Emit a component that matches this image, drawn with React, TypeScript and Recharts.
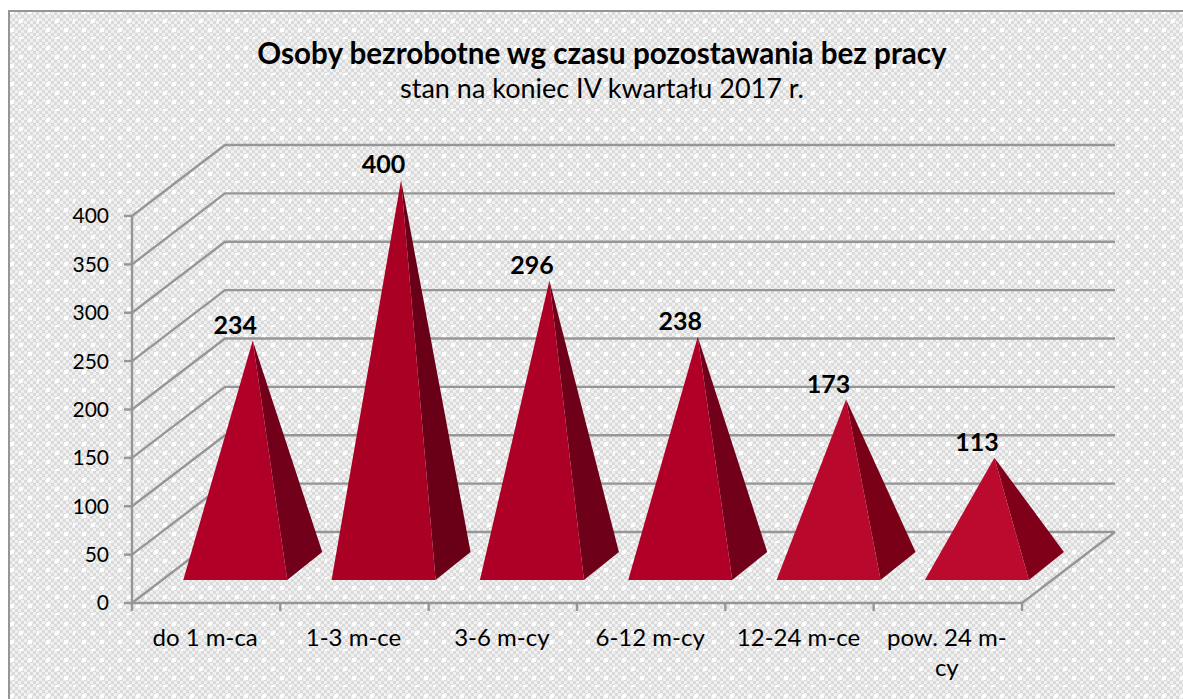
import React from "react";
import { BarChart, Bar, XAxis, YAxis, CartesianGrid, LabelList } from "recharts";

const categories = ["do 1 m-ca", "1-3 m-ce", "3-6 m-cy", "6-12 m-cy", "12-24 m-ce", "pow. 24 m-cy"];
const values = [234, 400, 296, 238, 173, 113];
const yTicks = [0, 50, 100, 150, 200, 250, 300, 350, 400];

const frontColors = ["#B00028", "#AA0024", "#AE0026", "#B00028", "#B8082C", "#BC0A2E"];
const sideColors = ["#72001A", "#6A0018", "#6E0019", "#72001A", "#7A0018", "#80001A"];

const chartData = categories.map((name, i) => ({ name, value: values[i] }));

const WIDTH = 1183;
const HEIGHT = 699;
const FONT = "Lato, Carlito, Calibri, sans-serif";
const GRID = "#969696";

// plot area = front plane of the fake 3D box
const LEFT = 132;
const RIGHT = 1022;
const TOP = 216;
const BOTTOM = 603;
const DEPTH_X = 93;
const DEPTH_Y = 71;
const BAND = (RIGHT - LEFT) / categories.length;

// wall lines: diagonal on the side wall, then straight across the back
const gridLine = (props: any) => {
  const { x1, y1, x2, y2, index } = props;
  const isFloor = Math.abs(y1 - BOTTOM) < 1;
  return (
    <g key={`wall-${index}`}>
      <polyline
        points={`${x1},${y1} ${x1 + DEPTH_X},${y1 - DEPTH_Y} ${x2 + DEPTH_X},${y2 - DEPTH_Y}`}
        fill="none"
        stroke={GRID}
        strokeWidth={2.4}
      />
      {isFloor && <line x1={x2} y1={y2} x2={x2 + DEPTH_X} y2={y2 - DEPTH_Y} stroke={GRID} strokeWidth={2.4} />}
    </g>
  );
};

const Pyramid = (props: any) => {
  const { x, y, width, height, index } = props;
  const baseY = y + height - 23;
  const left = x + 29;
  const right = left + width;
  const apexX = x + width / 2 + 46.5;
  const apexY = y - 36;
  return (
    <g>
      <polygon points={`${right},${baseY} ${right + 35},${baseY - 28} ${apexX},${apexY}`} fill={sideColors[index]} />
      <polygon points={`${left},${baseY} ${right},${baseY} ${apexX},${apexY}`} fill={frontColors[index]} />
    </g>
  );
};

const CategoryTick = (props: any) => {
  const { x, payload, index } = props;
  const label: string = payload.value;
  const lines = label.length > 10 ? [label.slice(0, label.lastIndexOf("-") + 1), label.slice(label.lastIndexOf("-") + 1)] : [label];
  const axisY = BOTTOM;
  return (
    <g>
      <line x1={x - BAND / 2} y1={axisY} x2={x - BAND / 2} y2={axisY + 8} stroke={GRID} strokeWidth={2.4} />
      {index === categories.length - 1 && (
        <line x1={x + BAND / 2} y1={axisY} x2={x + BAND / 2} y2={axisY + 8} stroke={GRID} strokeWidth={2.4} />
      )}
      {lines.map((line, i) => (
        <text key={i} x={x - 1} y={axisY + 43 + i * 30} textAnchor="middle" fontSize={24} fontFamily={FONT} fill="#000">
          {line}
        </text>
      ))}
    </g>
  );
};

const BarLabel = (props: any) => {
  const { x, y, width, value } = props;
  return (
    <text x={x + width / 2 + 29} y={y - 43} textAnchor="middle" fontSize={25} fontWeight={700} fontFamily={FONT} fill="#000">
      {value}
    </text>
  );
};

export default function App() {
  return (
    <div style={{ position: "absolute", left: 0, top: 0, width: WIDTH, height: HEIGHT, overflow: "hidden", background: "#fff" }}>
      <svg width={WIDTH} height={HEIGHT} style={{ position: "absolute", left: 0, top: 0 }}>
        <defs>
          <pattern id="checker" width="6" height="6" patternUnits="userSpaceOnUse">
            <rect width="6" height="6" fill="#f1f1f1" />
            <rect width="3" height="3" fill="#dadada" />
            <rect x="3" y="3" width="3" height="3" fill="#dadada" />
          </pattern>
          <pattern id="dots" width="36" height="36" patternUnits="userSpaceOnUse" x="3" y="3">
            <rect x="7" y="7" width="4" height="4" fill="#fff" />
            <rect x="25" y="25" width="4" height="4" fill="#fff" />
            <rect x="16" y="16" width="4" height="4" fill="#fff" />
            <rect x="34" y="34" width="2" height="2" fill="#fff" />
            <rect x="25" y="7" width="4" height="4" fill="#fff" />
            <rect x="7" y="25" width="4" height="4" fill="#fff" />
            <rect x="16" y="34" width="4" height="2" fill="#fff" />
            <rect x="34" y="16" width="2" height="4" fill="#fff" />
          </pattern>
        </defs>
        <rect x={9} y={11} width={WIDTH} height={HEIGHT} fill="url(#checker)" />
        <rect x={9} y={11} width={WIDTH} height={HEIGHT} fill="url(#dots)" stroke="#969696" strokeWidth={2} />
      </svg>
      <div style={{ position: "absolute", left: 0, top: 0 }}>
        <BarChart
          width={WIDTH}
          height={HEIGHT}
          data={chartData}
          barCategoryGap="15%"
          margin={{ top: TOP, right: WIDTH - RIGHT, bottom: HEIGHT - BOTTOM - 60, left: LEFT - 60 }}
        >
          <CartesianGrid vertical={false} horizontal={gridLine} />
          <XAxis dataKey="name" height={60} interval={0} axisLine={{ stroke: GRID, strokeWidth: 2.4 }} tickLine={false} tick={<CategoryTick />} />
          <YAxis
            width={60}
            domain={[0, 400]}
            ticks={yTicks}
            interval={0}
            axisLine={{ stroke: GRID, strokeWidth: 2.4 }}
            tickLine={{ stroke: GRID, strokeWidth: 2.4 }}
            tickSize={8}
            tickMargin={15}
            tick={{ fontSize: 21, fontFamily: FONT, fill: "#000" }}
          />
          <Bar dataKey="value" isAnimationActive={false} shape={<Pyramid />}>
            <LabelList dataKey="value" content={<BarLabel />} />
          </Bar>
        </BarChart>
      </div>
      <div style={{ position: "absolute", left: 0, right: 0, top: 34, textAlign: "center", paddingLeft: 21, boxSizing: "border-box", fontFamily: FONT, color: "#000" }}>
        <div style={{ fontSize: 29.6, fontWeight: 700, lineHeight: "37px" }}>Osoby bezrobotne wg czasu pozostawania bez pracy</div>
        <div style={{ fontSize: 27, lineHeight: "34px" }}>stan na koniec IV kwartału 2017 r.</div>
      </div>
    </div>
  );
}
